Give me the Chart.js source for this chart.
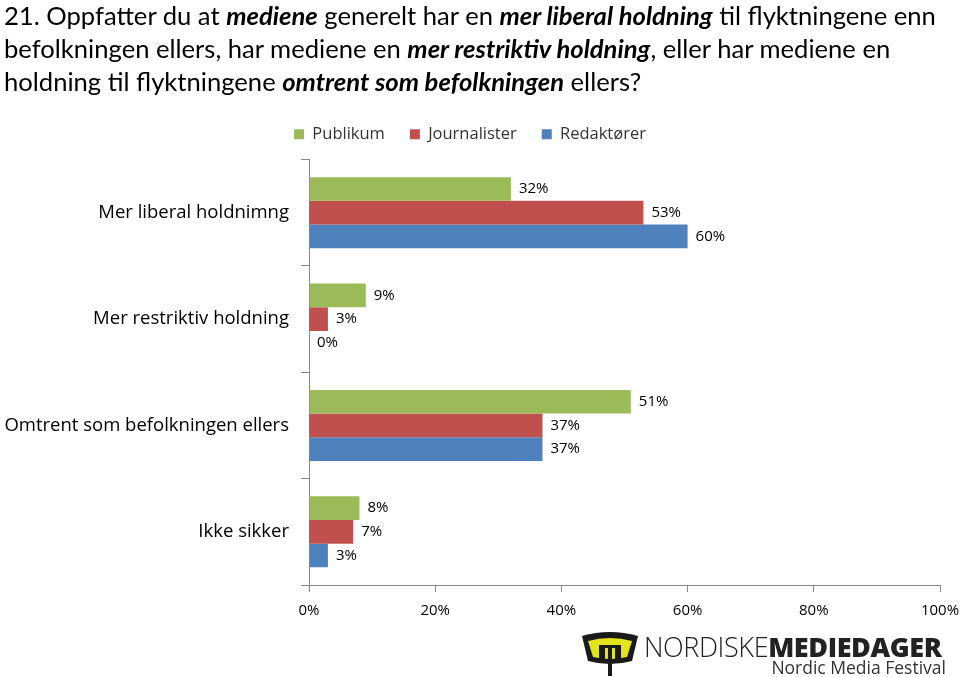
<!DOCTYPE html>
<html>
<head>
<meta charset="utf-8">
<script src="https://cdn.jsdelivr.net/npm/chart.js@4"></script>
<style>
  html, body { margin: 0; padding: 0; background: #fff; }
  #wrap { position: relative; width: 960px; height: 677px; overflow: hidden; }
  #title {
    position: absolute; left: 4px; top: -1px; width: 960px;
    font-family: Lato, "Open Sans", sans-serif; font-size: 25.6px; line-height: 33px;
    color: #000; white-space: nowrap;
  }
  #title b { font-style: italic; }
  #chart { position: absolute; left: 0; top: 0; }
  #logo { position: absolute; left: 580px; top: 630px; width: 370px; height: 47px; }
  #logo .name { position: absolute; left: 64px; top: -2px; font-family: "Open Sans", sans-serif; font-size: 27px; letter-spacing: -0.4px; color: #222; }
  #logo .name span { font-weight: 300; }
  #logo .name b { font-weight: 800; }
  #logo .sub { position: absolute; right: 4px; top: 25px; font-family: "Open Sans", sans-serif; font-size: 17.5px; color: #333; }
</style>
</head>
<body>
<div id="wrap">
  <canvas id="chart" width="960" height="677"></canvas>
  <div id="title">21. Oppfatter du at <b>mediene</b> generelt har en <b>mer liberal holdning</b> til flyktningene enn<br>befolkningen ellers, har mediene en <b>mer restriktiv holdning</b>, eller har mediene en<br>holdning til flyktningene <b>omtrent som befolkningen</b> ellers?</div>
  <div id="logo">
    <svg width="60" height="47" viewBox="0 0 60 47">
      <path d="M2 6 Q30 -2 58 6 L52 31 Q30 37 8 31 Z" fill="#1a1a1a"/>
      <path d="M8 11 Q30 5 52 11 L47 27 Q30 31 13 27 Z" fill="#e2e41c"/>
      <path d="M19 15 L19 31 L25 31 L25 18 L28 18 L28 46 L32 46 L32 18 L35 18 L35 31 L41 31 L41 15 Z" fill="#1a1a1a"/>
    </svg>
    <div class="name"><span>NORDISKE</span><b>MEDIEDAGER</b></div>
    <div class="sub">Nordic Media Festival</div>
  </div>
</div>
<script>
const categories = ['Mer liberal holdnimng', 'Mer restriktiv holdning', 'Omtrent som befolkningen ellers', 'Ikke sikker'];
const publikum = [32, 9, 51, 8];
const journalister = [53, 3, 37, 7];
const redaktorer = [60, 0, 37, 3];
const xTicks = [0, 20, 40, 60, 80, 100];

const valueLabels = {
  id: 'valueLabels',
  afterDatasetsDraw(chart) {
    const ctx = chart.ctx;
    ctx.save();
    ctx.font = '15px "Open Sans", sans-serif';
    ctx.fillStyle = '#000';
    ctx.textBaseline = 'middle';
    ctx.textAlign = 'left';
    chart.data.datasets.forEach((ds, i) => {
      chart.getDatasetMeta(i).data.forEach((bar, j) => {
        ctx.fillText(ds.data[j] + '%', bar.x + 8, bar.y);
      });
    });
    ctx.restore();
  }
};

// extra space between legend and plot
const legendGap = {
  id: 'legendGap',
  beforeUpdate(chart) {
    const lg = chart.legend;
    if (lg && !lg._gapPatched) {
      const fit = lg.fit;
      lg.fit = function () { fit.call(this); this.height += 7; };
      lg._gapPatched = true;
    }
  }
};

new Chart(document.getElementById('chart'), {
  type: 'bar',
  data: {
    labels: categories,
    datasets: [
      { label: 'Publikum', data: publikum, backgroundColor: '#9BBB59' },
      { label: 'Journalister', data: journalister, backgroundColor: '#C0504D' },
      { label: 'Redaktører', data: redaktorer, backgroundColor: '#4F81BD' }
    ]
  },
  options: {
    indexAxis: 'y',
    responsive: false,
    animation: false,
    categoryPercentage: 0.667,
    barPercentage: 1,
    layout: { padding: { top: 101, right: 20, bottom: 47, left: 0 } },
    plugins: {
      legend: {
        labels: {
          boxWidth: 10, boxHeight: 10, padding: 25,
          color: '#333',
          font: { family: 'Open Sans', size: 16.5 }
        }
      },
      tooltip: { enabled: false }
    },
    scales: {
      x: {
        min: 0, max: 100,
        afterBuildTicks: s => { s.ticks = xTicks.map(v => ({ value: v })); },
        afterFit: s => { s.paddingRight = 0; s.paddingLeft = 0; },
        ticks: { callback: v => v + '%', color: '#000', font: { family: 'Open Sans', size: 15 }, padding: 10, maxRotation: 0 },
        grid: { drawOnChartArea: false, drawTicks: true, tickLength: 7, color: '#888' },
        border: { color: '#888' }
      },
      y: {
        afterFit: s => { s.width = 309; },
        ticks: { color: '#000', font: { family: 'Open Sans', size: 18.5 }, padding: 12 },
        grid: { drawOnChartArea: false, drawTicks: true, tickLength: 8, color: '#888', offset: true },
        border: { color: '#888' }
      }
    }
  },
  plugins: [valueLabels, legendGap]
});
</script>
</body>
</html>
